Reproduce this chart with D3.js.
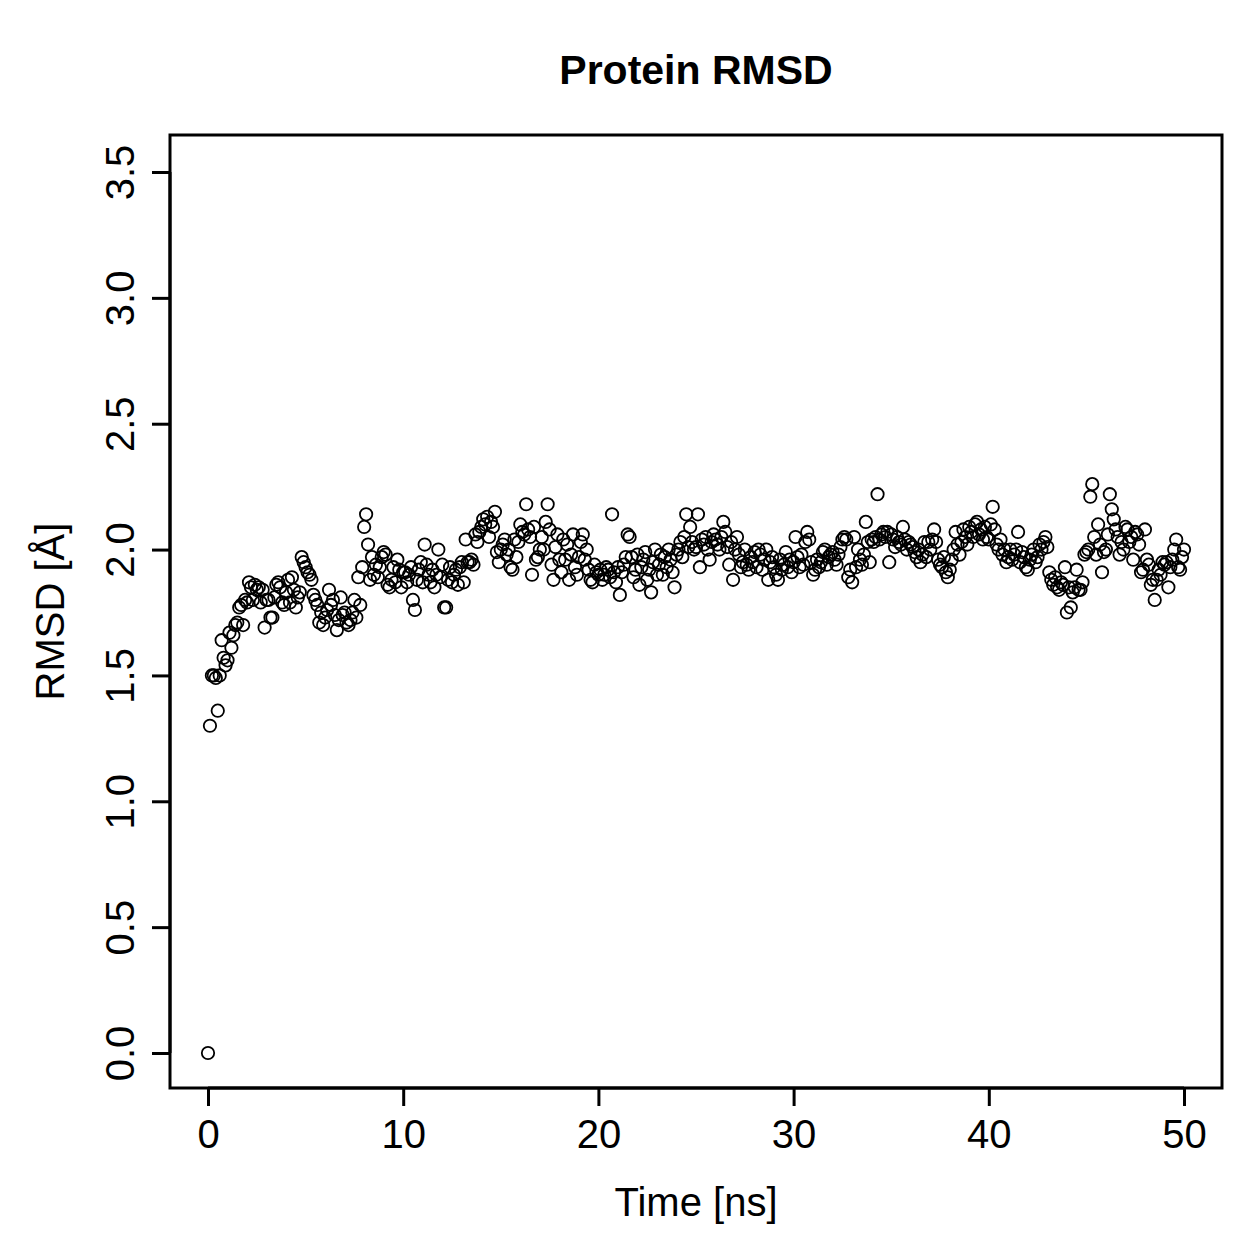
<!DOCTYPE html>
<html>
<head>
<meta charset="utf-8">
<script src="https://cdn.jsdelivr.net/npm/d3@7"></script>
<style>
  html, body { margin: 0; padding: 0; background: #ffffff; }
  svg { display: block; font-family: "Liberation Sans", Arial, Helvetica, sans-serif; }
</style>
</head>
<body>
<div id="chart"></div>
<script>
// Sampling grid: one frame every 0.1 ns, first frame at t = 0
const timeStep = 0.1;
const firstValue = 0.0;

// RMSD [Å], one row of ten frames per nanosecond (t = 0.1 .. 50.0)
const rmsdRows = [
  [1.30, 1.50, 1.50, 1.49, 1.36, 1.50, 1.64, 1.57, 1.54, 1.56],
  [1.67, 1.61, 1.66, 1.70, 1.71, 1.77, 1.78, 1.70, 1.80, 1.79],
  [1.87, 1.85, 1.80, 1.86, 1.84, 1.85, 1.79, 1.84, 1.69, 1.80],
  [1.80, 1.73, 1.73, 1.81, 1.86, 1.87, 1.85, 1.79, 1.78, 1.83],
  [1.88, 1.79, 1.89, 1.84, 1.77, 1.81, 1.83, 1.97, 1.95, 1.93],
  [1.91, 1.90, 1.88, 1.82, 1.80, 1.78, 1.71, 1.75, 1.70, 1.73],
  [1.76, 1.84, 1.78, 1.80, 1.74, 1.68, 1.72, 1.81, 1.74, 1.75],
  [1.71, 1.70, 1.72, 1.75, 1.80, 1.73, 1.89, 1.78, 1.93, 2.09],
  [2.14, 2.02, 1.88, 1.97, 1.90, 1.94, 1.89, 1.93, 1.97, 1.99],
  [1.98, 1.86, 1.85, 1.88, 1.93, 1.87, 1.96, 1.92, 1.85, 1.91],
  [1.91, 1.87, 1.90, 1.93, 1.80, 1.76, 1.88, 1.92, 1.95, 1.87],
  [2.02, 1.94, 1.90, 1.87, 1.92, 1.85, 1.90, 2.00, 1.89, 1.94],
  [1.77, 1.77, 1.88, 1.93, 1.87, 1.90, 1.92, 1.86, 1.93, 1.95],
  [1.87, 2.04, 1.95, 1.95, 1.96, 1.94, 2.06, 2.03, 2.07, 2.09],
  [2.12, 2.10, 2.13, 2.05, 2.11, 2.09, 2.15, 1.99, 1.95, 2.00],
  [2.02, 2.04, 1.98, 2.00, 1.93, 1.92, 2.04, 1.97, 2.03, 2.10],
  [2.07, 2.06, 2.18, 2.08, 2.05, 1.90, 2.09, 1.96, 1.97, 2.00],
  [2.05, 2.00, 2.11, 2.18, 2.08, 1.94, 1.88, 2.01, 2.06, 1.96],
  [1.91, 2.04, 1.96, 2.02, 1.88, 1.98, 2.06, 1.93, 1.90, 1.97],
  [2.03, 2.06, 1.96, 2.00, 1.92, 1.88, 1.87, 1.94, 1.91, 1.90],
  [1.92, 1.88, 1.90, 1.93, 1.92, 1.89, 2.14, 1.91, 1.87, 1.93],
  [1.82, 1.91, 1.94, 1.97, 2.06, 2.05, 1.97, 1.89, 1.92, 1.98],
  [1.86, 1.93, 1.96, 1.99, 1.88, 1.92, 1.83, 1.95, 2.00, 1.90],
  [1.94, 1.98, 1.90, 1.97, 1.93, 2.00, 1.96, 1.91, 1.85, 1.98],
  [2.00, 2.03, 1.97, 2.05, 2.14, 2.01, 2.09, 2.03, 2.00, 2.01],
  [2.14, 1.93, 2.04, 2.02, 2.05, 2.00, 1.96, 2.03, 2.06, 2.04],
  [2.02, 2.00, 2.05, 2.11, 2.07, 2.01, 1.94, 2.03, 1.88, 2.00],
  [2.05, 1.98, 1.93, 1.95, 2.00, 1.94, 1.92, 1.97, 1.95, 1.99],
  [1.93, 2.00, 1.98, 1.92, 1.96, 2.00, 1.88, 1.95, 1.97, 1.93],
  [1.90, 1.88, 1.96, 1.92, 1.94, 1.99, 1.93, 1.96, 1.91, 1.95],
  [2.05, 1.97, 1.93, 1.98, 1.94, 2.03, 2.07, 2.04, 1.95, 1.90],
  [1.92, 1.96, 1.93, 1.95, 1.99, 2.00, 1.94, 1.97, 1.98, 1.99],
  [1.96, 1.94, 1.98, 2.01, 2.04, 2.05, 2.04, 1.89, 1.92, 1.87],
  [2.05, 1.93, 2.00, 1.96, 1.94, 1.98, 2.11, 2.03, 1.95, 2.04],
  [2.03, 2.05, 2.22, 2.04, 2.06, 2.07, 2.05, 2.07, 1.95, 2.06],
  [2.04, 2.01, 2.05, 2.03, 2.02, 2.09, 2.04, 2.00, 2.03, 2.02],
  [2.01, 1.99, 1.97, 2.00, 1.95, 1.98, 2.03, 1.97, 2.03, 2.00],
  [2.04, 2.08, 2.03, 1.96, 1.94, 1.93, 1.97, 1.91, 1.89, 1.92],
  [1.96, 2.00, 2.07, 2.02, 1.98, 2.03, 2.08, 2.05, 2.02, 2.09],
  [2.07, 2.05, 2.10, 2.11, 2.06, 2.08, 2.04, 2.09, 2.05, 2.04],
  [2.10, 2.17, 2.08, 2.02, 2.00, 2.04, 1.98, 2.00, 1.95, 1.97],
  [2.00, 1.96, 1.98, 2.00, 2.07, 1.95, 1.99, 1.97, 1.93, 1.92],
  [1.96, 1.98, 2.00, 1.95, 1.97, 2.02, 2.00, 2.03, 2.05, 2.01],
  [1.91, 1.88, 1.86, 1.89, 1.85, 1.84, 1.87, 1.86, 1.93, 1.75],
  [1.85, 1.77, 1.83, 1.85, 1.92, 1.84, 1.84, 1.87, 1.98, 1.99],
  [2.00, 2.21, 2.26, 2.05, 1.98, 2.10, 2.02, 1.91, 1.99, 2.00],
  [2.06, 2.22, 2.16, 2.12, 2.08, 2.05, 1.98, 2.03, 2.00, 2.09],
  [2.08, 2.03, 2.05, 1.96, 2.07, 2.06, 2.02, 1.91, 1.92, 2.08],
  [1.96, 1.94, 1.86, 1.88, 1.80, 1.88, 1.92, 1.90, 1.95, 1.94],
  [1.95, 1.85, 1.93, 1.96, 2.00, 2.04, 1.93, 1.92, 1.97, 2.00],
];

const xTicks = [0, 10, 20, 30, 40, 50];
const yTicks = [0.0, 0.5, 1.0, 1.5, 2.0, 2.5, 3.0, 3.5];
const titleText = "Protein RMSD";
const xLabel = "Time [ns]";
const yLabel = "RMSD [Å]";

(function () {
  const width = 1259;
  const height = 1259;
  const box = { left: 170, right: 1222, top: 135, bottom: 1088 };
  const axisFont = 40;

  const points = [{ t: 0, v: firstValue }];
  rmsdRows.flat().forEach((v, i) => points.push({ t: +((i + 1) * timeStep).toFixed(1), v }));

  const x = d3.scaleLinear().domain([0, 50]).range([208, 1184]);
  const y = d3.scaleLinear().domain([0, 3.5]).range([1053, 172]);

  const svg = d3.select("#chart").append("svg").attr("width", width).attr("height", height);
  svg.append("rect").attr("width", width).attr("height", height).attr("fill", "#ffffff");

  svg
    .append("g")
    .selectAll("circle")
    .data(points)
    .join("circle")
    .attr("cx", (d) => x(d.t))
    .attr("cy", (d) => y(d.v))
    .attr("r", 6.2)
    .attr("fill", "none")
    .attr("stroke", "#000")
    .attr("stroke-width", 1.8);

  svg
    .append("rect")
    .attr("x", box.left)
    .attr("y", box.top)
    .attr("width", box.right - box.left)
    .attr("height", box.bottom - box.top)
    .attr("fill", "none")
    .attr("stroke", "#000")
    .attr("stroke-width", 3);

  svg
    .append("g")
    .attr("transform", `translate(0, ${box.bottom})`)
    .call(d3.axisBottom(x).tickValues(xTicks).tickSize(18).tickPadding(14).tickFormat(d3.format("d")))
    .call((axis) => axis.select(".domain").attr("d", `M${x(0)},0H${x(50)}`).attr("stroke-width", 3))
    .call((axis) => axis.selectAll("line").attr("stroke-width", 3))
    .call((axis) => axis.selectAll("text").attr("font-size", axisFont).attr("fill", "#000").attr("font-family", "Liberation Sans, Arial, sans-serif"));

  const yAxis = svg
    .append("g")
    .attr("transform", `translate(${box.left}, 0)`)
    .call(d3.axisLeft(y).tickValues(yTicks).tickSize(18).tickFormat(d3.format(".1f")))
    .call((axis) => axis.select(".domain").attr("d", `M0,${y(0)}V${y(3.5)}`).attr("stroke-width", 3))
    .call((axis) => axis.selectAll("line").attr("stroke-width", 3));
  yAxis
    .selectAll("text")
    .attr("x", null)
    .attr("dy", null)
    .attr("text-anchor", "middle")
    .attr("transform", "translate(-36, 0) rotate(-90)")
    .attr("font-size", axisFont)
    .attr("fill", "#000")
    .attr("font-family", "Liberation Sans, Arial, sans-serif");

  svg
    .append("text")
    .attr("x", (box.left + box.right) / 2)
    .attr("y", 84)
    .attr("text-anchor", "middle")
    .attr("font-size", 41)
    .attr("font-weight", "bold")
    .text(titleText);

  svg
    .append("text")
    .attr("x", (box.left + box.right) / 2)
    .attr("y", 1216)
    .attr("text-anchor", "middle")
    .attr("font-size", axisFont)
    .text(xLabel);

  svg
    .append("text")
    .attr("transform", `translate(64, ${(box.top + box.bottom) / 2}) rotate(-90)`)
    .attr("text-anchor", "middle")
    .attr("font-size", axisFont)
    .text(yLabel);
})();
</script>
</body>
</html>
